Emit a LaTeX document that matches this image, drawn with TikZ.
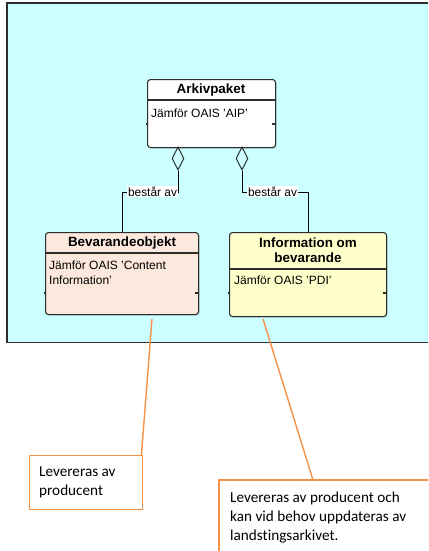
\documentclass[tikz,border=0pt]{standalone}
\usepackage{fontspec}
\setmainfont{Liberation Sans}
\newfontfamily\notefont[Ligatures=NoCommon]{Carlito}
\usetikzlibrary{shapes.geometric,shadows}

\definecolor{bgcyan}{RGB}{204,255,255}
\definecolor{peach}{RGB}{252,232,220}
\definecolor{paleyellow}{RGB}{255,255,204}
\definecolor{noteorange}{RGB}{246,146,72}
\definecolor{edgegray}{RGB}{45,45,45}

\begin{document}
\begin{tikzpicture}[x=1pt,y=-1pt,
  classbox/.style={draw=edgegray, line width=1.1pt, rounded corners=3pt,
    anchor=north west, inner sep=0pt,
    drop shadow={shadow xshift=1.2pt, shadow yshift=-1.2pt, opacity=0.25}},
  divider/.style={draw=edgegray, line width=1.1pt},
  titletext/.style={font=\fontsize{13.4}{15}\selectfont\bfseries,
    inner sep=0pt, align=center},
  bodytext/.style={font=\fontsize{12}{15}\selectfont, inner sep=0pt, align=left},
  agg/.style={diamond, draw=edgegray, line width=1pt, fill=bgcyan,
    inner sep=0pt, minimum width=12pt, minimum height=23pt},
  rolelabel/.style={fill=white, inner sep=1pt, font=\fontsize{11.9}{13}\selectfont},
  link/.style={draw=black, line width=1pt},
  notelink/.style={draw=noteorange, line width=1.4pt},
  notetext/.style={font=\notefont\fontsize{15.2}{19}\selectfont,
    inner sep=0pt, align=left, anchor=west},
]
\useasboundingbox (0,0) rectangle (428,551);

% background panel, open on the right
\node[fill=bgcyan, minimum width=421pt, minimum height=339pt,
  anchor=north west, inner sep=0pt] (panel) at (7,3) {};
\draw[edgegray, line width=1.2pt]
  (panel.north east) -- (panel.north west) -- (panel.south west) -- (panel.south east);

% classes
\node[classbox, fill=white, minimum width=128pt, minimum height=68pt] (aip) at (147,79) {};
\node[classbox, fill=peach, minimum width=153pt, minimum height=82pt] (bev) at (45,232) {};
\node[classbox, fill=paleyellow, minimum width=157pt, minimum height=84pt] (pdi) at (229,232) {};

\draw[divider] (aip.west |- 0,100) -- (aip.east |- 0,100);
\draw[divider] (bev.west |- 0,253) -- (bev.east |- 0,253);
\draw[divider] (pdi.west |- 0,269) -- (pdi.east |- 0,269);

% compartment ticks
\draw[divider] (aip.west |- 0,124) -- ++(-1.5,0);
\draw[divider] (aip.east |- 0,124) -- ++(-4,0);
\draw[divider] (bev.west |- 0,293) -- ++(-1.5,0);
\draw[divider] (bev.east |- 0,293) -- ++(-4,0);
\draw[divider] (pdi.west |- 0,293) -- ++(-1.5,0);
\draw[divider] (pdi.east |- 0,293) -- ++(-4,0);

\node[titletext] (t1) at (211,90) {Arkivpaket};
\node[bodytext, anchor=base west] (b1) at (151,117.5) {Jämför OAIS 'AIP'};
\node[titletext] (t2) at (122,243) {Bevarandeobjekt};
\node[bodytext, anchor=west] (b2) at (49,272.5) {Jämför OAIS 'Content\\Information'};
\node[titletext] (t3) at (308,250.5) {Information om\\bevarande};
\node[bodytext, anchor=base west] (b3) at (234,284.5) {Jämför OAIS 'PDI'};

% aggregations
\node[agg] (d1) at (178,158.5) {};
\node[agg] (d2) at (242,158.5) {};
\draw[link] (d1.south) -- ++(0,22) -| (bev.north);
\draw[link] (d2.south) -- ++(0,22) -| (pdi.north);
\node[rolelabel] (r1) at (152.5,191.5) {består av};
\node[rolelabel] (r2) at (272.5,191.5) {består av};

% notes
\coordinate (c1) at (152,319);
\coordinate (c2) at (263,319);
\node[draw=noteorange, line width=1.4pt, fill=white, minimum width=113pt,
  minimum height=54pt, anchor=north west, inner sep=0pt] (note1) at (29,455) {};
\node[fill=white, minimum width=209pt, minimum height=71pt,
  anchor=north west, inner sep=0pt] (note2) at (219,480) {};
\draw[notelink] (note2.south west) -- (note2.north west) -- (note2.north east);
\draw[notelink] (c1) -- ([xshift=-2pt]note1.north east);
\draw[notelink] (c2) -- ([xshift=94pt]note2.north west);

\node[notetext] (n1t) at (39,482.5) {Levereras av\\producent};
\node[notetext] (n2t) at (230,518) {Levereras av producent och\\kan vid behov uppdateras av\\landstingsarkivet.};
\end{tikzpicture}
\end{document}
